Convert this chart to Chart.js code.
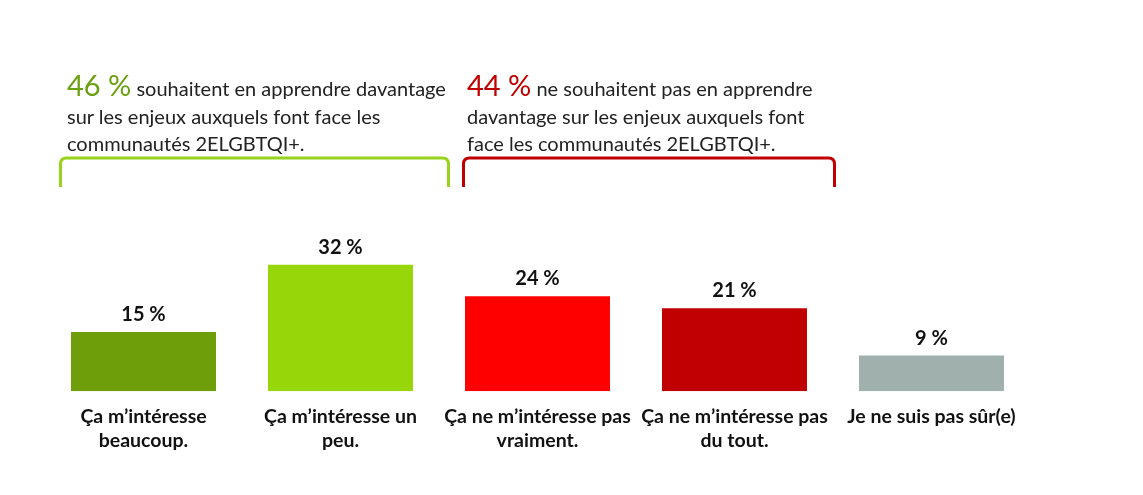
<!DOCTYPE html>
<html>
<head>
<meta charset="utf-8">
<script src="https://cdn.jsdelivr.net/npm/chart.js@4"></script>
<style>
  html, body { margin: 0; padding: 0; background: #fff; }
  #wrap { position: relative; width: 1143px; height: 495px; }
  .note { position: absolute; font-family: Lato, "Open Sans", sans-serif; font-size: 20px; line-height: 27.5px; color: #222; white-space: nowrap; }
  .note .big { font-size: 29px; }
</style>
</head>
<body>
<div id="wrap">
  <canvas id="chart" width="1143" height="495"></canvas>
  <div class="note" style="left:67px; top:71px;"><span class="big" style="color:#6a9f10">46 %</span> souhaitent en apprendre davantage<br>sur les enjeux auxquels font face les<br>communautés 2ELGBTQI+.</div>
  <div class="note" style="left:467px; top:71px;"><span class="big" style="color:#c00000">44 %</span> ne souhaitent pas en apprendre<br>davantage sur les enjeux auxquels font<br>face les communautés 2ELGBTQI+.</div>
</div>
<script>
// données
const categories = [
    ['Ça m’intéresse', 'beaucoup.'],
    ['Ça m’intéresse un', 'peu.'],
    ['Ça ne m’intéresse pas', 'vraiment.'],
    ['Ça ne m’intéresse pas', 'du tout.'],
    ['Je ne suis pas sûr(e)']
];
const values = [15, 32, 24, 21, 9];
const barColors = ['#6e9f0b', '#97d70a', '#ff0000', '#c00000', '#9fb0ad'];

// accolades au-dessus des groupes (indices des catégories)
const brackets = [
    { from: 0, to: 1, color: '#99d21a', left: -83, right: 108 },
    { from: 2, to: 3, color: '#c00000', left: -74, right: 100 }
];

const valueLabels = {
    id: 'valueLabels',
    afterDatasetsDraw(chart) {
        const ctx = chart.ctx;
        const meta = chart.getDatasetMeta(0);
        ctx.save();
        ctx.font = 'bold 20px Lato, sans-serif';
        ctx.fillStyle = '#111';
        ctx.textAlign = 'center';
        ctx.textBaseline = 'alphabetic';
        meta.data.forEach((bar, i) => {
            ctx.fillText(values[i] + ' %', bar.x, bar.y - 11);
        });
        ctx.restore();
    }
};

const bracketLines = {
    id: 'bracketLines',
    afterDraw(chart) {
        const ctx = chart.ctx;
        const x = chart.scales.x;
        const top = 158, bottom = 187, r = 6;
        ctx.save();
        ctx.lineWidth = 3;
        brackets.forEach(b => {
            const x1 = x.getPixelForValue(b.from) + b.left;
            const x2 = x.getPixelForValue(b.to) + b.right;
            ctx.strokeStyle = b.color;
            ctx.beginPath();
            ctx.moveTo(x1, bottom);
            ctx.lineTo(x1, top + r);
            ctx.quadraticCurveTo(x1, top, x1 + r, top);
            ctx.lineTo(x2 - r, top);
            ctx.quadraticCurveTo(x2, top, x2, top + r);
            ctx.lineTo(x2, bottom);
            ctx.stroke();
        });
        ctx.restore();
    }
};

new Chart(document.getElementById('chart'), {
    type: 'bar',
    data: {
        labels: categories,
        datasets: [{
            data: values,
            backgroundColor: barColors,
            categoryPercentage: 1,
            barPercentage: 0.736
        }]
    },
    options: {
        responsive: false,
        animation: false,
        layout: { padding: { left: 45, right: 113, top: 233, bottom: 29 } },
        plugins: { legend: { display: false }, tooltip: { enabled: false } },
        scales: {
            x: {
                grid: { display: false, drawTicks: false },
                border: { display: false },
                ticks: {
                    color: '#111',
                    font: { family: 'Lato, sans-serif', size: 19.5, weight: 'bold', lineHeight: 1.2 },
                    padding: 14,
                    maxRotation: 0,
                    autoSkip: false
                }
            },
            y: {
                display: false,
                min: 0,
                max: 40
            }
        }
    },
    plugins: [valueLabels, bracketLines]
});
</script>
</body>
</html>
